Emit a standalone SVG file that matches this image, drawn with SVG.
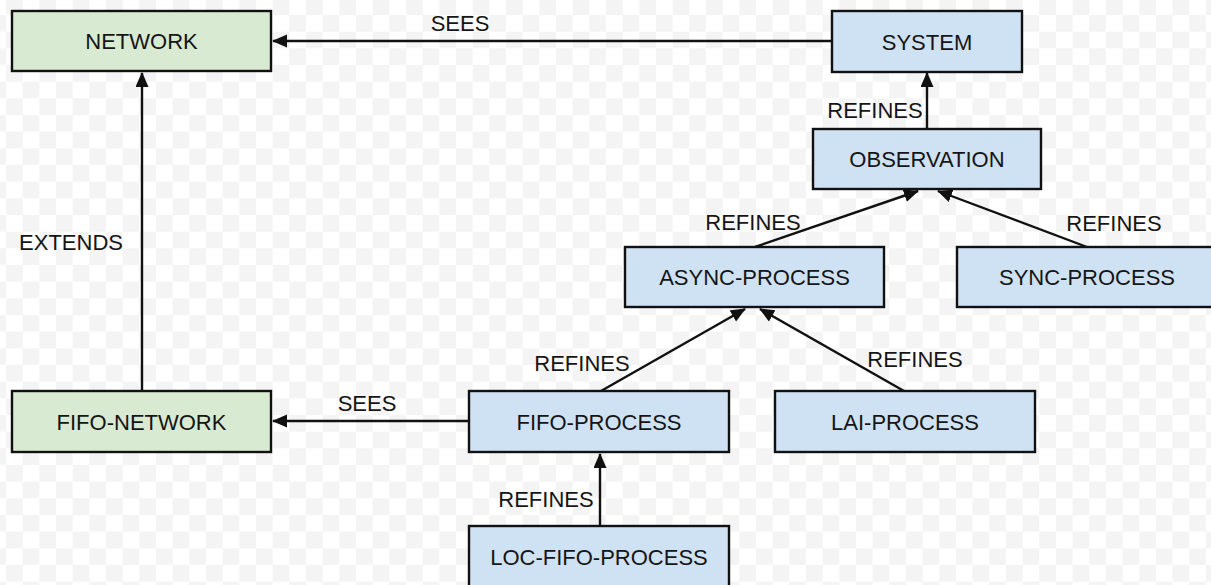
<svg xmlns="http://www.w3.org/2000/svg" width="1211" height="585" viewBox="0 0 1211 585">
  <style>
    .box { stroke: #111; stroke-width: 2.4; }
    .blue { fill: #cfe2f3; }
    .green { fill: #d9ead3; }
    .t { font-family: "Liberation Sans", Arial, sans-serif; font-size: 22px; fill: #151515; text-anchor: middle; }
    .edge { stroke: #111; stroke-width: 2.4; fill: none; marker-end: url(#arr); }
  </style>
  <defs>
    <pattern id="checker" patternUnits="userSpaceOnUse" x="6" y="-1.67" width="33.33" height="33.33">
      <rect width="33.33" height="33.33" fill="#ffffff"/>
      <rect width="16.67" height="16.67" fill="#f4f4f4"/>
      <rect x="16.67" y="16.67" width="16.67" height="16.67" fill="#f4f4f4"/>
    </pattern>
    <marker id="arr" markerUnits="userSpaceOnUse" markerWidth="17" markerHeight="14" refX="14" refY="6.5" orient="auto">
      <path d="M0,0 L15,6.5 L0,13 z" fill="#111"/>
    </marker>
  </defs>
  <rect width="1211" height="585" fill="url(#checker)"/>

  <g id="connectors">
    <line class="edge" x1="832" y1="41" x2="273" y2="41"/>
    <line class="edge" x1="927" y1="129" x2="927" y2="73"/>
    <line class="edge" x1="755" y1="247" x2="918" y2="191"/>
    <line class="edge" x1="1087" y1="247" x2="938" y2="191"/>
    <line class="edge" x1="601" y1="391" x2="745" y2="309"/>
    <line class="edge" x1="904" y1="391" x2="760" y2="309"/>
    <line class="edge" x1="600" y1="526" x2="600" y2="454"/>
    <line class="edge" x1="469" y1="421" x2="273" y2="421"/>
    <line class="edge" x1="142" y1="391" x2="142" y2="73"/>
    <text class="t" x="460" y="31">SEES</text>
    <text class="t" x="875" y="118">REFINES</text>
    <text class="t" x="753" y="230">REFINES</text>
    <text class="t" x="1114" y="231">REFINES</text>
    <text class="t" x="71" y="250">EXTENDS</text>
    <text class="t" x="582" y="371">REFINES</text>
    <text class="t" x="915" y="367">REFINES</text>
    <text class="t" x="367" y="411">SEES</text>
    <text class="t" x="546" y="507">REFINES</text>
  </g>

  <g id="network">
    <rect class="box green" x="12" y="11" width="259" height="60"/>
    <text class="t" x="141.5" y="49">NETWORK</text>
  </g>
  <g id="system">
    <rect class="box blue" x="832" y="11" width="190" height="61"/>
    <text class="t" x="927" y="49.5">SYSTEM</text>
  </g>
  <g id="observation">
    <rect class="box blue" x="813" y="129" width="228" height="60"/>
    <text class="t" x="927" y="167">OBSERVATION</text>
  </g>
  <g id="async-process">
    <rect class="box blue" x="625" y="247" width="259" height="60"/>
    <text class="t" x="754.5" y="285">ASYNC-PROCESS</text>
  </g>
  <g id="sync-process">
    <rect class="box blue" x="957" y="247" width="260" height="60"/>
    <text class="t" x="1087" y="285">SYNC-PROCESS</text>
  </g>
  <g id="fifo-network">
    <rect class="box green" x="12" y="391" width="259" height="61"/>
    <text class="t" x="141.5" y="429.5">FIFO-NETWORK</text>
  </g>
  <g id="fifo-process">
    <rect class="box blue" x="469" y="391" width="260" height="61"/>
    <text class="t" x="599" y="429.5">FIFO-PROCESS</text>
  </g>
  <g id="lai-process">
    <rect class="box blue" x="775" y="391" width="260" height="61"/>
    <text class="t" x="905" y="429.5">LAI-PROCESS</text>
  </g>
  <g id="loc-fifo-process">
    <rect class="box blue" x="469" y="526" width="260" height="70"/>
    <text class="t" x="599" y="564.5">LOC-FIFO-PROCESS</text>
  </g>
</svg>
